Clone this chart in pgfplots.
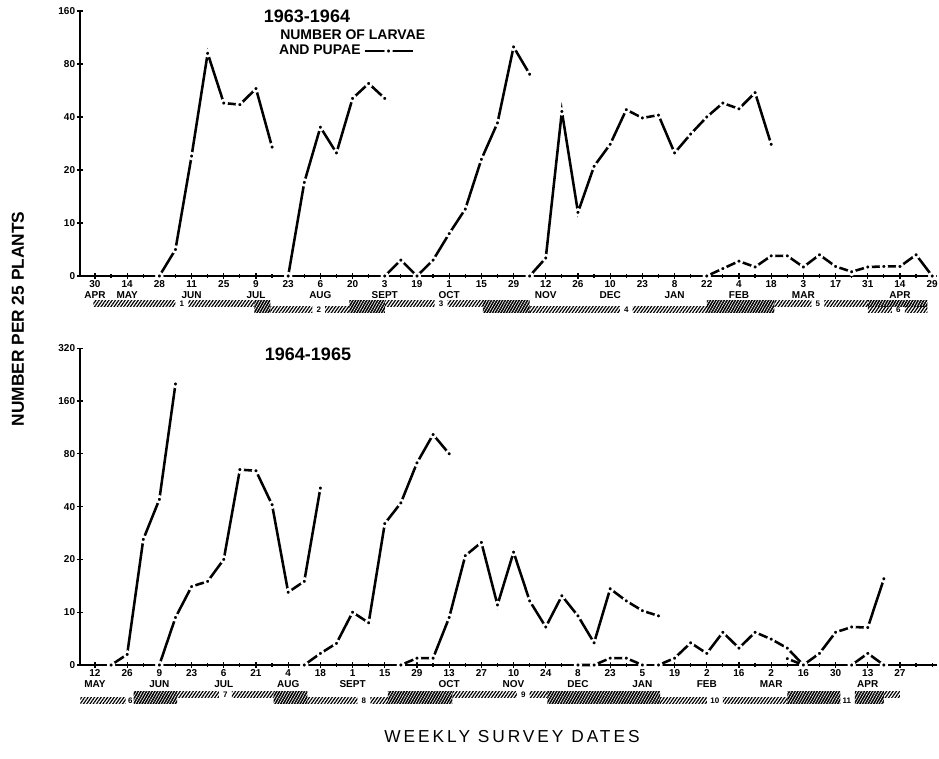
\documentclass[border=0pt]{standalone}
\usepackage{fontspec}
\setmainfont{Liberation Sans}
\usepackage{pgfplots}
\pgfplotsset{compat=1.18}
\usetikzlibrary{patterns.meta}

\tikzset{barlab/.style={font=\fontsize{6}{6}\selectfont\bfseries, inner sep=0.5pt}}
\pgfplotsset{
  wsd/.style={
    scale only axis, x=12.075pt,
    xmin=-0.93, xmax=52.3,
    axis lines*=left,
    axis line style={line width=1.2pt},
    clip=false, axis on top,
    tick align=center, major tick length=4pt, minor tick length=3pt,
    every tick/.style={black, line width=0.9pt},
    ticklabel style={font=\fontsize{7.5}{8}\selectfont\bfseries},
    xticklabel style={align=center, inner sep=1.5pt},
    yticklabel style={inner sep=1.5pt},
    % vertical scale of the original: linear 0-10, then doubling steps 10,20,40,...
    y filter/.expression={min(y,10)/10 + ln(max(y,10)/10)/ln(2)},
  },
  datline/.style={black, line width=1.9pt, mark=*, mark size=2.2pt,
    mark options={fill=black, draw=white, line width=1.8pt}},
  dat/.style={datline, forget plot},
  lightbar/.style={draw=none, forget plot, pattern={Lines[angle=55,distance=2pt,line width=0.9pt]}},
  densebar/.style={draw=none, forget plot, pattern={Lines[angle=60,distance=1.8pt,line width=1.15pt]}},
}

\begin{document}
\begin{tikzpicture}
\useasboundingbox (-60pt,207pt) rectangle (644.25pt,-361.5pt);

% ---------------- 1963-1964 ----------------
\begin{axis}[wsd, at={(0pt,0pt)}, anchor=south west,
  y=39.75pt, ymin=0, ymax=5,
  ytick={0,1,2,3,4,5}, yticklabels={0,10,20,40,80,160},
  xtick={0,2,...,52}, minor xtick={1,3,...,51},
  xticklabels={{30\\APR},{14\\MAY},{28},{11\\JUN},{25},{9\\JUL},{23},{6\\AUG},{20},{3\\SEPT},{19},{1\\OCT},{15},{29},{12\\NOV},{26},{10\\DEC},{23},{8\\JAN},{22},{4\\FEB},{18},{3\\MAR},{17},{31},{14\\APR},{29}},
  legend plot pos=right,
  legend image code/.code={\draw[mark repeat=2,mark phase=2,#1] plot coordinates {(0pt,0pt)(18pt,0pt)(36pt,0pt)};},
  legend style={at={(0.2290,0.849)}, anchor=west, draw=none, fill=none,
    font=\fontsize{10.5}{11}\selectfont\bfseries, inner sep=0pt},
]
\addlegendimage{datline}
\addlegendentry{AND PUPAE}
\addplot[dat] coordinates {(4,0)(5,5)(6,24)(7,92)(8,48)(9,47)(10,58)(11,27)};
\addplot[dat] coordinates {(12,0)(13,17)(14,35)(15,25)(16,51)(17,62)(18,51)};
\addplot[dat] coordinates {(18,0)(19,3)(20,0)(21,3)(22,8)(23,12)(24,23)(25,37)(26,100)(27,70)};
\addplot[dat] coordinates {(27,0)(28,3.4)(29,43)(30,11.5)(31,21)(32,28)(33,44)(34,39.5)(35,41)(36,25)(37,32)(38,40)(39,48)(40,44.5)(41,55)(42,28)};
\addplot[dat] coordinates {(38,0)(39,1.4)(40,2.8)(41,1.7)(42,3.8)(43,3.8)(44,1.7)(45,4)(46,1.8)(47,0.8)(48,1.7)(49,1.8)(50,1.8)(51,4)(52,0)};
% generation bars
\addplot[lightbar] coordinates {(-0.1,-4.7)(5.0,-4.7)(5.0,-5.8)(-0.1,-5.8)};
\addplot[lightbar] coordinates {(5.8,-4.7)(9.9,-4.7)(9.9,-5.8)(5.8,-5.8)};
\addplot[densebar] coordinates {(9.9,-4.7)(10.9,-4.7)(10.9,-6.9)(9.9,-6.9)};
\addplot[lightbar] coordinates {(10.9,-5.8)(13.5,-5.8)(13.5,-6.9)(10.9,-6.9)};
\addplot[lightbar] coordinates {(14.3,-5.8)(15.8,-5.8)(15.8,-6.9)(14.3,-6.9)};
\addplot[densebar] coordinates {(15.8,-4.7)(18,-4.7)(18,-6.9)(15.8,-6.9)};
\addplot[lightbar] coordinates {(18,-4.7)(21.1,-4.7)(21.1,-5.8)(18,-5.8)};
\addplot[lightbar] coordinates {(21.9,-4.7)(24.1,-4.7)(24.1,-5.8)(21.9,-5.8)};
\addplot[densebar] coordinates {(24.1,-4.7)(27,-4.7)(27,-6.9)(24.1,-6.9)};
\addplot[lightbar] coordinates {(27,-5.8)(32.6,-5.8)(32.6,-6.9)(27,-6.9)};
\addplot[lightbar] coordinates {(33.4,-5.8)(38,-5.8)(38,-6.9)(33.4,-6.9)};
\addplot[densebar] coordinates {(38,-4.7)(42.2,-4.7)(42.2,-6.9)(38,-6.9)};
\addplot[lightbar] coordinates {(42.2,-4.7)(44.5,-4.7)(44.5,-5.8)(42.2,-5.8)};
\addplot[lightbar] coordinates {(45.3,-4.7)(48,-4.7)(48,-5.8)(45.3,-5.8)};
\addplot[densebar] coordinates {(48,-4.7)(51.7,-4.7)(51.7,-5.8)(48,-5.8)};
\addplot[lightbar] coordinates {(48,-5.8)(49.5,-5.8)(49.5,-6.9)(48,-6.9)};
\addplot[lightbar] coordinates {(50.3,-5.8)(51.7,-5.8)(51.7,-6.9)(50.3,-6.9)};
\node[barlab] at (axis cs:5.4,-0.525) {1};
\node[barlab] at (axis cs:13.9,-0.635) {2};
\node[barlab] at (axis cs:21.5,-0.525) {3};
\node[barlab] at (axis cs:33,-0.635) {4};
\node[barlab] at (axis cs:44.9,-0.525) {5};
\node[barlab] at (axis cs:49.9,-0.635) {6};
\end{axis}

% ---------------- 1964-1965 ----------------
\begin{axis}[wsd, at={(0pt,-291.75pt)}, anchor=south west,
  y=39.6pt, ymin=0, ymax=6,
  ytick={0,1,2,3,4,5,6}, yticklabels={0,10,20,40,80,160,320},
  xtick={0,2,...,50}, minor xtick={1,3,...,51,52},
  xticklabels={{12\\MAY},{26},{9\\JUN},{23},{6\\JUL},{21},{4\\AUG},{18},{1\\SEPT},{15},{29},{13\\OCT},{27},{10\\NOV},{24},{8\\DEC},{23},{5\\JAN},{19},{2\\FEB},{16},{2\\MAR},{16},{30},{13\\APR},{27}},
]
\addplot[dat] coordinates {(1,0)(2,2)(3,26)(4,44)(5,200)};
\addplot[dat] coordinates {(4,0)(5,9)(6,14)(7,15)(8,20)(9,65)(10,64)(11,41)(12,13)(13,15)(14,51)};
\addplot[dat] coordinates {(13,0)(14,2.2)(15,4.1)(16,10)(17,8)(18,32)(19,42)(20,71)(21,103)(22,80)};
\addplot[dat] coordinates {(19,0)(20,1.3)(21,1.3)(22,9)(23,21)(24,25)(25,11)(26,22)(27,11.6)(28,7.2)(29,12.4)(30,9.3)(31,4.2)(32,13.6)(33,11.6)(34,10.2)(35,9.3)};
\addplot[dat] coordinates {(30,0)(31,0)(32,1.3)(33,1.3)(34,0)};
\addplot[dat] coordinates {(35,0)(36,1.3)(37,4.2)(38,2.2)(39,6.2)(40,3.2)(41,6.2)(42,4.9)(43,3.2)(44,0)(45,2.2)(46,6.2)(47,7.2)(48,7.1)(49,15.5)};
\addplot[dat] coordinates {(43,1.2)(44,0)};
\addplot[dat] coordinates {(47,0)(48,2.2)(49,0)};
% generation bars
\addplot[lightbar] coordinates {(-0.9,-6.2)(1.9,-6.2)(1.9,-7.2)(-0.9,-7.2)};
\addplot[densebar] coordinates {(2.4,-5.1)(5.1,-5.1)(5.1,-7.2)(2.4,-7.2)};
\addplot[lightbar] coordinates {(5.1,-5.1)(7.7,-5.1)(7.7,-6.2)(5.1,-6.2)};
\addplot[lightbar] coordinates {(8.5,-5.1)(11.1,-5.1)(11.1,-6.2)(8.5,-6.2)};
\addplot[densebar] coordinates {(11.1,-5.1)(13.2,-5.1)(13.2,-7.2)(11.1,-7.2)};
\addplot[lightbar] coordinates {(13.2,-6.2)(16.3,-6.2)(16.3,-7.2)(13.2,-7.2)};
\addplot[lightbar] coordinates {(17.1,-6.2)(18.2,-6.2)(18.2,-7.2)(17.1,-7.2)};
\addplot[densebar] coordinates {(18.2,-5.1)(22.2,-5.1)(22.2,-7.2)(18.2,-7.2)};
\addplot[lightbar] coordinates {(22.2,-5.1)(26.2,-5.1)(26.2,-6.2)(22.2,-6.2)};
\addplot[lightbar] coordinates {(27.0,-5.1)(28.1,-5.1)(28.1,-6.2)(27.0,-6.2)};
\addplot[densebar] coordinates {(28.1,-5.1)(35.1,-5.1)(35.1,-7.2)(28.1,-7.2)};
\addplot[lightbar] coordinates {(35.1,-6.2)(38.0,-6.2)(38.0,-7.2)(35.1,-7.2)};
\addplot[lightbar] coordinates {(39.0,-6.2)(43,-6.2)(43,-7.2)(39.0,-7.2)};
\addplot[densebar] coordinates {(43,-5.1)(46.3,-5.1)(46.3,-7.2)(43,-7.2)};
\addplot[densebar] coordinates {(47.2,-5.1)(49,-5.1)(49,-7.2)(47.2,-7.2)};
\addplot[lightbar] coordinates {(49,-5.1)(50,-5.1)(50,-6.2)(49,-6.2)};
\node[barlab] at (axis cs:2.2,-0.67) {6};
\node[barlab] at (axis cs:8.1,-0.565) {7};
\node[barlab] at (axis cs:16.7,-0.67) {8};
\node[barlab] at (axis cs:26.6,-0.565) {9};
\node[barlab] at (axis cs:38.5,-0.67) {10};
\node[barlab] at (axis cs:46.7,-0.67) {11};
\end{axis}

% ---------------- texts ----------------
\node[font=\fontsize{13.5}{14}\selectfont\bfseries] at (170.25pt,195pt) {1963-1964};
\node[anchor=west, font=\fontsize{10.5}{11}\selectfont\bfseries, inner sep=0pt] at (150pt,180.75pt) {NUMBER OF LARVAE};
\node[font=\fontsize{13.5}{14}\selectfont\bfseries] at (171pt,-58.5pt) {1964-1965};
\node[rotate=90, font=\fontsize{13}{13}\selectfont\bfseries] at (-46.5pt,-32.25pt) {NUMBER PER 25 PLANTS};
\node[font=\fontsize{13}{13}\selectfont\addfontfeatures{LetterSpace=17}] at (324pt,-345.75pt) {WEEKLY SURVEY DATES};
\end{tikzpicture}
\end{document}
